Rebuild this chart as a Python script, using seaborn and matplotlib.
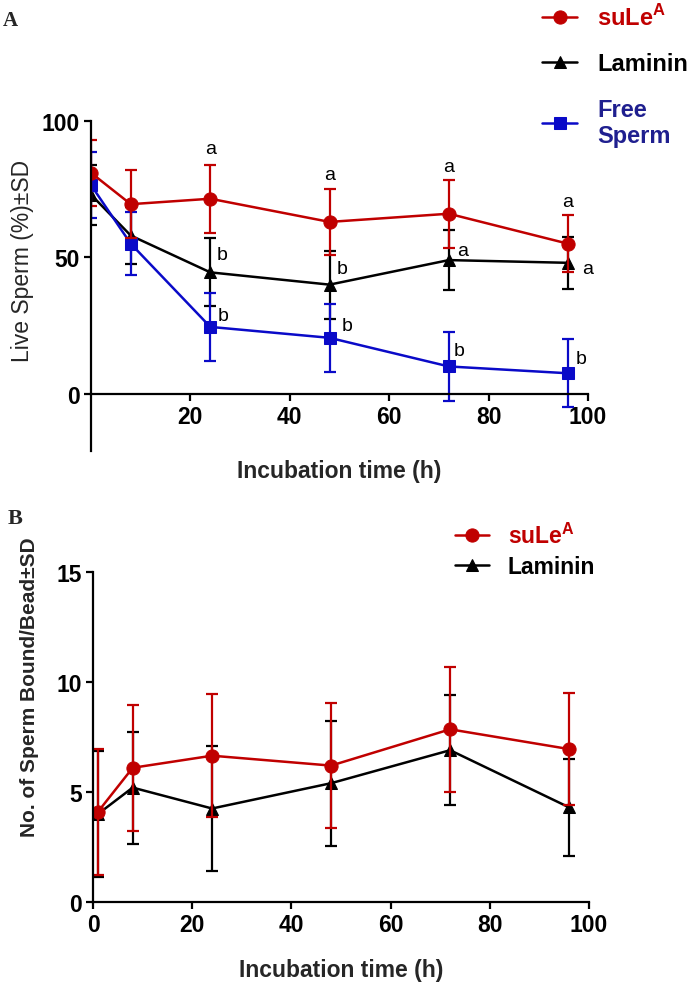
import matplotlib
matplotlib.use("Agg")
import matplotlib.pyplot as plt
import seaborn as sns
import pandas as pd
import numpy as np

# ---------------- data ----------------
time_a = [0, 8, 24, 48, 72, 96]
sule_a = [81, 69.5, 71.5, 63, 66, 55]
sule_a_sd = [12, 12.5, 12.5, 12, 12.5, 10.5]
lam_a = [73, 58, 44.5, 40, 49, 48]
lam_a_sd = [11, 10.5, 12.5, 12.5, 11, 9.5]
free_a = [76.5, 55, 24.5, 20.5, 10, 7.5]
free_a_sd = [12, 11.5, 12.5, 12.5, 12.5, 12.5]

time_b = [1, 8, 24, 48, 72, 96]
sule_b = [4.1, 6.1, 6.65, 6.2, 7.85, 6.95]
sule_b_sd = [2.85, 2.85, 2.8, 2.85, 2.85, 2.55]
lam_b = [4.0, 5.2, 4.25, 5.4, 6.9, 4.3]
lam_b_sd = [2.85, 2.55, 2.85, 2.85, 2.5, 2.2]

# significance letters (panel A)
sig_x = [24, 48, 72, 96, 25.3, 49.5, 73.6, 98.8, 25.5, 50.5, 73.0, 97.5]
sig_y = [90, 80.5, 83.5, 70.5, 50.9, 46, 52.7, 46, 28.6, 24.9, 15.9, 12.9]
sig_txt = ['a', 'a', 'a', 'a', 'b', 'b', 'a', 'a', 'b', 'b', 'b', 'b']
sig_ha = ['center'] * 4 + ['left'] * 8

xticks_a = [20, 40, 60, 80, 100]
yticks_a = [0, 50, 100]
xticks_b = [0, 20, 40, 60, 80, 100]
yticks_b = [0, 5, 10, 15]

RED = '#C00000'
BLACK = '#000000'
BLUE = '#0A0AC8'
NAVY = '#1F1F8F'

sns.set_style('ticks')
plt.rcParams['font.family'] = ['Liberation Sans', 'DejaVu Sans']
plt.rcParams['mathtext.fontset'] = 'custom'
plt.rcParams['mathtext.rm'] = 'Liberation Sans'
plt.rcParams['mathtext.bf'] = 'Liberation Sans:bold'

fig = plt.figure(figsize=(6.93, 9.87), dpi=100)
W, H = 693, 987


def px_axes(l, t, r, b):
    return fig.add_axes([l / W, 1 - b / H, (r - l) / W, (b - t) / H])


axA = px_axes(91, 122, 588, 452)
axB = px_axes(93, 573, 589, 903)

LW = 1.8
ELW = 1.6
CAP = 4.6


def draw(ax, t, y, sd, color, marker, ms, label):
    df = pd.DataFrame({'t': t, 'y': y})
    sns.lineplot(data=df, x='t', y='y', ax=ax, color=color, marker=marker,
                 markersize=ms, markeredgecolor=color, linewidth=LW,
                 label=label, errorbar=None)
    ax.errorbar(t, y, yerr=sd, fmt='none', ecolor=color, elinewidth=ELW,
                capsize=CAP, capthick=ELW)


label_sule = r'suLe$^{\mathbf{A}}$'

# panel A (draw order: black, blue, red on top)
draw(axA, time_a, lam_a, lam_a_sd, BLACK, '^', 8, 'Laminin')
draw(axA, time_a, free_a, free_a_sd, BLUE, 's', 8.5, 'Free\nSperm')
draw(axA, time_a, sule_a, sule_a_sd, RED, 'o', 9.5, label_sule)

# panel B
draw(axB, time_b, lam_b, lam_b_sd, BLACK, '^', 8, 'Laminin')
draw(axB, time_b, sule_b, sule_b_sd, RED, 'o', 9.5, label_sule)

for x, y, s, ha in zip(sig_x, sig_y, sig_txt, sig_ha):
    axA.text(x, y, s, ha=ha, va='center', fontsize=14, color='black')

# axes styling
for ax in (axA, axB):
    for s in ('top', 'right'):
        ax.spines[s].set_visible(False)
    for s in ('left', 'bottom'):
        ax.spines[s].set_linewidth(1.6)
        ax.spines[s].set_color('black')
    ax.tick_params(axis='both', which='major', length=5, width=1.6,
                   direction='out', pad=3, colors='black')

TICKFS = 16.5
axA.set_xlim(0, 100)
axA.set_ylim(-21, 100)
axA.spines['bottom'].set_position(('data', 0))
axA.set_xticks(xticks_a)
axA.set_yticks(yticks_a)
axA.set_xticklabels([str(v) for v in xticks_a], fontweight='bold', fontsize=TICKFS)
axA.set_yticklabels([str(v) for v in yticks_a], fontweight='bold', fontsize=TICKFS)

axB.set_xlim(0, 100)
axB.set_ylim(0, 15)
axB.set_xticks(xticks_b)
axB.set_yticks(yticks_b)
axB.set_xticklabels([str(v) for v in xticks_b], fontweight='bold', fontsize=TICKFS)
axB.set_yticklabels([str(v) for v in yticks_b], fontweight='bold', fontsize=TICKFS)

axA.set_xlabel('Incubation time (h)', fontsize=16.5, fontweight='bold')
axA.xaxis.set_label_coords(0.5, -0.025)
axA.set_ylabel('Live Sperm (%)±SD', fontsize=16.5)
axA.yaxis.set_label_coords(-0.115, 0.58)

axB.set_xlabel('Incubation time (h)', fontsize=16.5, fontweight='bold')
axB.xaxis.set_label_coords(0.5, -0.17)
axB.set_ylabel('No. of Sperm Bound/Bead±SD', fontsize=15, fontweight='bold')
axB.yaxis.set_label_coords(-0.108, 0.655)

# legends
hA, lA = axA.get_legend_handles_labels()
order = [lA.index(label_sule), lA.index('Laminin'), lA.index('Free\nSperm')]
legA = axA.legend([hA[i] for i in order], [lA[i] for i in order],
                  loc='upper left', bbox_to_anchor=(542 / W, 1 - 5 / H),
                  bbox_transform=fig.transFigure, frameon=False,
                  prop={'weight': 'bold', 'size': 17}, handlelength=1.5,
                  handletextpad=0.85, labelspacing=0.95, borderpad=0,
                  borderaxespad=0, labelcolor=[RED, BLACK, NAVY])

hB, lB = axB.get_legend_handles_labels()
orderB = [lB.index(label_sule), lB.index('Laminin')]
legB = axB.legend([hB[i] for i in orderB], [lB[i] for i in orderB],
                  loc='upper left', bbox_to_anchor=(455 / W, 1 - 524 / H),
                  bbox_transform=fig.transFigure, frameon=False,
                  prop={'weight': 'bold', 'size': 16.5}, handlelength=1.5,
                  handletextpad=0.8, labelspacing=0.3, borderpad=0,
                  borderaxespad=0, labelcolor=[RED, BLACK])

fig.text(3 / W, 1 - 21 / H, 'A', fontsize=15, fontweight='bold',
         family=['Liberation Serif', 'DejaVu Serif'], va='center', ha='left')
fig.text(8 / W, 1 - 519 / H, 'B', fontsize=16, fontweight='bold',
         family=['Liberation Serif', 'DejaVu Serif'], va='center', ha='left')

fig.savefig('out.png', dpi=100)
